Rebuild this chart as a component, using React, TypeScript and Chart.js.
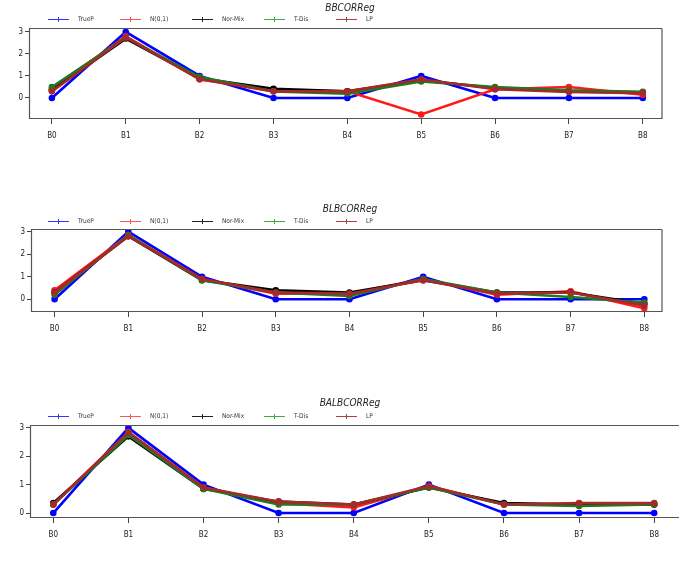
import React, { useEffect, useRef } from 'react';
import { Chart, registerables } from 'chart.js';
Chart.register(...registerables);

const CATEGORIES = ['B0', 'B1', 'B2', 'B3', 'B4', 'B5', 'B6', 'B7', 'B8'];
const SERIES_NAMES = ['TrueP', 'N(0,1)', 'Nor-Mix', 'T-Dis', 'LP'];
const COLORS = ['#0000ff', '#ff1a1a', '#000000', '#1f7a1f', '#a52a2a'];
const LEGEND_COLORS = ['#3333ff', '#ff5555', '#222222', '#44aa44', '#b04040'];
const Y_TICKS = [0, 1, 2, 3];

// Panel 1: BBCORReg
const BB_TRUEP = [0, 3, 1, 0, 0, 1, 0, 0, 0];
const BB_N01 = [0.4, 2.8, 0.85, 0.35, 0.3, -0.75, 0.4, 0.5, 0.15];
const BB_NORMIX = [0.35, 2.7, 0.9, 0.42, 0.3, 0.8, 0.45, 0.3, 0.25];
const BB_TDIS = [0.5, 2.75, 0.95, 0.3, 0.2, 0.75, 0.5, 0.35, 0.28];
const BB_LP = [0.3, 2.75, 0.85, 0.3, 0.3, 0.85, 0.4, 0.27, 0.22];

// Panel 2: BLBCORReg
const BLB_TRUEP = [0, 3, 1, 0, 0, 1, 0, 0, 0];
const BLB_N01 = [0.4, 2.85, 0.9, 0.25, 0.25, 0.9, 0.2, 0.35, -0.4];
const BLB_NORMIX = [0.3, 2.8, 0.85, 0.4, 0.3, 0.85, 0.3, 0.3, -0.2];
const BLB_TDIS = [0.2, 2.85, 0.85, 0.3, 0.15, 0.9, 0.3, 0.1, -0.15];
const BLB_LP = [0.3, 2.8, 0.9, 0.3, 0.25, 0.85, 0.25, 0.3, -0.27];

// Panel 3: BALBCORReg
const BALB_TRUEP = [0, 3, 1, 0, 0, 1, 0, 0, 0];
const BALB_N01 = [0.3, 2.85, 0.9, 0.35, 0.2, 0.95, 0.3, 0.3, 0.3];
const BALB_NORMIX = [0.35, 2.7, 0.85, 0.4, 0.3, 0.9, 0.35, 0.3, 0.3];
const BALB_TDIS = [0.3, 2.75, 0.85, 0.3, 0.3, 0.9, 0.3, 0.25, 0.3];
const BALB_LP = [0.3, 2.85, 0.9, 0.4, 0.3, 0.95, 0.3, 0.35, 0.35];

const FONT = '"Liberation Sans Narrow", "DejaVu Sans Condensed", "Liberation Sans", sans-serif';

type PanelCfg = {
  title: string;
  series: number[][];
  canvasTop: number;
  height: number;
  left: number;
  right: number;
  top: number;
  bottom: number;
  xMin: number;
  xMax: number;
  yMin: number;
  yMax: number;
  titleY: number;
  legendY: number;
  noRightBorder?: boolean;
};

const PANELS: PanelCfg[] = [
  {
    title: 'BBCORReg',
    series: [BB_TRUEP, BB_N01, BB_NORMIX, BB_TDIS, BB_LP],
    canvasTop: 0, height: 150, left: 29, right: 662, top: 28, bottom: 118,
    xMin: -0.31, xMax: 8.26, yMin: -0.91, yMax: 3.18, titleY: 8, legendY: 19,
  },
  {
    title: 'BLBCORReg',
    series: [BLB_TRUEP, BLB_N01, BLB_NORMIX, BLB_TDIS, BLB_LP],
    canvasTop: 195, height: 145, left: 31, right: 662, top: 34, bottom: 116,
    xMin: -0.32, xMax: 8.24, yMin: -0.52, yMax: 3.12, titleY: 14, legendY: 26,
  },
  {
    title: 'BALBCORReg',
    series: [BALB_TRUEP, BALB_N01, BALB_NORMIX, BALB_TDIS, BALB_LP],
    canvasTop: 390, height: 174, left: 30, right: 679, top: 35, bottom: 127,
    xMin: -0.31, xMax: 8.33, yMin: -0.14, yMax: 3.1, titleY: 13, legendY: 26,
    noRightBorder: true,
  },
];

const W = 680;

function makeDecor(cfg: PanelCfg) {
  return {
    id: 'decor',
    afterDraw(chart: any) {
      const ctx = chart.ctx as CanvasRenderingContext2D;
      const a = chart.chartArea;
      ctx.save();
      // box
      ctx.strokeStyle = '#555';
      ctx.lineWidth = 1.2;
      ctx.beginPath();
      ctx.moveTo(a.right, a.top + 0.5);
      ctx.lineTo(a.left + 0.5, a.top + 0.5);
      ctx.lineTo(a.left + 0.5, a.bottom + 0.5);
      ctx.lineTo(a.right, a.bottom + 0.5);
      if (!cfg.noRightBorder) ctx.lineTo(a.right, a.top + 0.5);
      ctx.stroke();
      // title
      ctx.fillStyle = '#222';
      ctx.font = `italic 10px ${FONT}`;
      ctx.textAlign = 'center';
      ctx.textBaseline = 'middle';
      ctx.fillText(cfg.title, 350, cfg.titleY);
      // legend
      ctx.font = `6.5px ${FONT}`;
      ctx.textAlign = 'left';
      SERIES_NAMES.forEach((name, i) => {
        const x0 = 48 + i * 72;
        const y = cfg.legendY;
        ctx.strokeStyle = LEGEND_COLORS[i];
        ctx.lineWidth = 1;
        ctx.beginPath();
        ctx.moveTo(x0, y + 0.5);
        ctx.lineTo(x0 + 21, y + 0.5);
        ctx.stroke();
        ctx.beginPath();
        ctx.moveTo(x0 + 10.5, y - 2);
        ctx.lineTo(x0 + 10.5, y + 3);
        ctx.stroke();
        ctx.fillStyle = '#333';
        ctx.fillText(name, x0 + 30, y + 0.5);
      });
      ctx.restore();
    },
  };
}

function Panel({ cfg }: { cfg: PanelCfg }) {
  const ref = useRef<HTMLCanvasElement>(null);
  useEffect(() => {
    const canvas = ref.current!;
    const chart = new Chart(canvas, {
      type: 'line',
      data: {
        datasets: cfg.series.map((vals, si) => ({
          label: SERIES_NAMES[si],
          data: vals.map((v, i) => ({ x: i, y: v })),
          borderColor: COLORS[si],
          backgroundColor: COLORS[si],
          borderWidth: 2.6,
          pointRadius: 2,
          pointStyle: 'circle',
          tension: 0,
          order: 4 - si,
        })),
      },
      options: {
        responsive: false,
        animation: false,
        layout: {
          autoPadding: false,
          padding: { left: 0, top: cfg.top, right: W - cfg.right, bottom: 0 },
        },
        plugins: {
          legend: { display: false },
          title: { display: false },
          tooltip: { enabled: false },
        },
        scales: {
          x: {
            type: 'linear',
            min: cfg.xMin,
            max: cfg.xMax,
            afterBuildTicks: (s: any) => {
              s.ticks = CATEGORIES.map((_, i) => ({ value: i }));
            },
            afterFit: (s: any) => {
              s.height = cfg.height - cfg.bottom;
            },
            ticks: {
              callback: (v: any) => CATEGORIES[Math.round(Number(v))] ?? '',
              padding: 7,
              maxRotation: 0,
              autoSkip: false,
              color: '#222',
              font: { size: 8, family: FONT },
            },
            grid: { drawOnChartArea: false, drawTicks: true, tickLength: 6, tickColor: '#444' },
            border: { display: false },
          },
          y: {
            type: 'linear',
            min: cfg.yMin,
            max: cfg.yMax,
            afterBuildTicks: (s: any) => {
              s.ticks = Y_TICKS.map((v) => ({ value: v }));
            },
            afterFit: (s: any) => {
              s.width = cfg.left;
            },
            ticks: {
              padding: 2,
              color: '#222',
              font: { size: 8, family: FONT },
            },
            grid: { drawOnChartArea: false, drawTicks: true, tickLength: 4, tickColor: '#444' },
            border: { display: false },
          },
        },
      } as any,
      plugins: [makeDecor(cfg)],
    });
    return () => chart.destroy();
  }, [cfg]);
  return (
    <canvas
      ref={ref}
      width={W}
      height={cfg.height}
      style={{ position: 'absolute', left: 0, top: cfg.canvasTop, width: W, height: cfg.height }}
    />
  );
}

export default function App() {
  return (
    <div style={{ position: 'fixed', left: 0, top: 0, width: 680, height: 564, background: '#fff' }}>
      {PANELS.map((p) => (
        <Panel key={p.title} cfg={p} />
      ))}
    </div>
  );
}
